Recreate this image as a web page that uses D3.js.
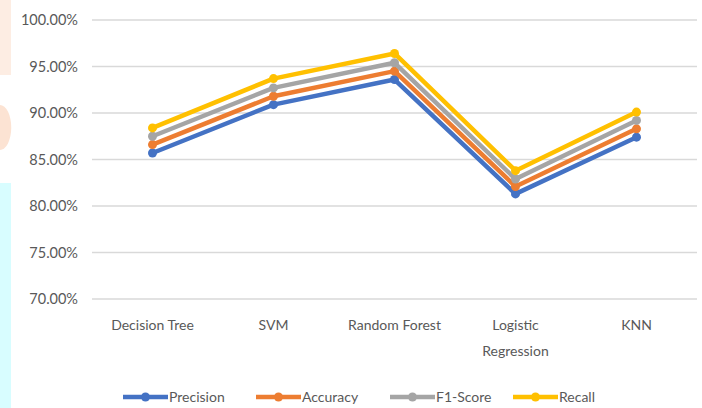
<!DOCTYPE html>
<html><head><meta charset="utf-8">
<script src="https://cdn.jsdelivr.net/npm/d3@7"></script>
<style>
html,body{margin:0;padding:0;background:#fff;}
svg{display:block;}
</style></head>
<body><svg id="chart" width="702" height="408"></svg>
<script>
const categories = ["Decision Tree", "SVM", "Random Forest", "Logistic Regression", "KNN"];
const seriesNames = ["Precision", "Accuracy", "F1-Score", "Recall"];
const precision = [85.7, 90.9, 93.6, 81.3, 87.4];
const accuracy  = [86.6, 91.8, 94.5, 82.1, 88.3];
const f1score   = [87.5, 92.7, 95.4, 82.9, 89.2];
const recall    = [88.4, 93.7, 96.4, 83.8, 90.1];
const yTicks = [70, 75, 80, 85, 90, 95, 100];
const colors = ["#4472C4", "#ED7D31", "#A5A5A5", "#FFC000"];

const series = [precision, accuracy, f1score, recall];
const svg = d3.select("#chart");
const W = 702, H = 408;
const margin = {left: 92, right: 5, top: 20, bottom: 109};
const font = "Lato, 'Open Sans', sans-serif";

// decorative left strip
svg.append("rect").attr("x",0).attr("y",0).attr("width",11).attr("height",75).attr("fill","#FDEDE3");
svg.append("path").attr("d","M0,105 A11,22 0 0 1 0,150 Z").attr("fill","#FCE3D3");
svg.append("rect").attr("x",0).attr("y",183).attr("width",11).attr("height",225).attr("fill","#D8FDFF");

const x = d3.scaleBand().domain(categories).range([margin.left, W - margin.right]);
const y = d3.scaleLinear().domain([70, 100]).range([H - margin.bottom, margin.top]);

// grid
svg.append("g").selectAll("line").data(yTicks).join("line")
  .attr("x1", margin.left).attr("x2", W - margin.right)
  .attr("y1", d => y(d)).attr("y2", d => y(d))
  .attr("stroke", "#D9D9D9").attr("stroke-width", 1.5);

// y labels
svg.append("g").selectAll("text").data(yTicks).join("text")
  .attr("x", 78).attr("y", d => y(d)).attr("dy", "0.35em")
  .attr("text-anchor", "end").attr("font-family", font).attr("font-size", 14.5)
  .attr("fill", "#595959").text(d => d.toFixed(2) + "%");

// x labels
const xl = svg.append("g").selectAll("text").data(categories).join("text")
  .attr("x", d => x(d) + x.bandwidth()/2).attr("y", 330)
  .attr("text-anchor", "middle").attr("font-family", font).attr("font-size", 14)
  .attr("fill", "#595959");
xl.each(function(d){
  const t = d3.select(this);
  const parts = d === "Logistic Regression" ? ["Logistic", "Regression"] : [d];
  parts.forEach((p,i) => t.append("tspan").attr("x", x(d) + x.bandwidth()/2).attr("dy", i ? 26 : 0).text(p));
});

const line = d3.line().x((d,i) => x(categories[i]) + x.bandwidth()/2).y(d => y(d));
series.forEach((s, k) => {
  const g = svg.append("g");
  g.append("path").datum(s).attr("d", line).attr("fill", "none")
    .attr("stroke", colors[k]).attr("stroke-width", 4.5).attr("stroke-linejoin", "round");
  g.selectAll("circle").data(s).join("circle")
    .attr("cx", (d,i) => x(categories[i]) + x.bandwidth()/2).attr("cy", d => y(d))
    .attr("r", 4.5).attr("fill", colors[k]);
});

// legend
const legX = [123, 256, 390, 513];
const leg = svg.append("g");
seriesNames.forEach((n, k) => {
  const gx = legX[k], gy = 397;
  leg.append("line").attr("x1", gx).attr("x2", gx + 45).attr("y1", gy).attr("y2", gy)
    .attr("stroke", colors[k]).attr("stroke-width", 4.5);
  leg.append("circle").attr("cx", gx + 22.5).attr("cy", gy).attr("r", 4.5).attr("fill", colors[k]);
  leg.append("text").attr("x", gx + 46).attr("y", gy).attr("dy", "0.35em")
    .attr("font-family", font).attr("font-size", 14).attr("fill", "#595959").text(n);
});
</script></body></html>
